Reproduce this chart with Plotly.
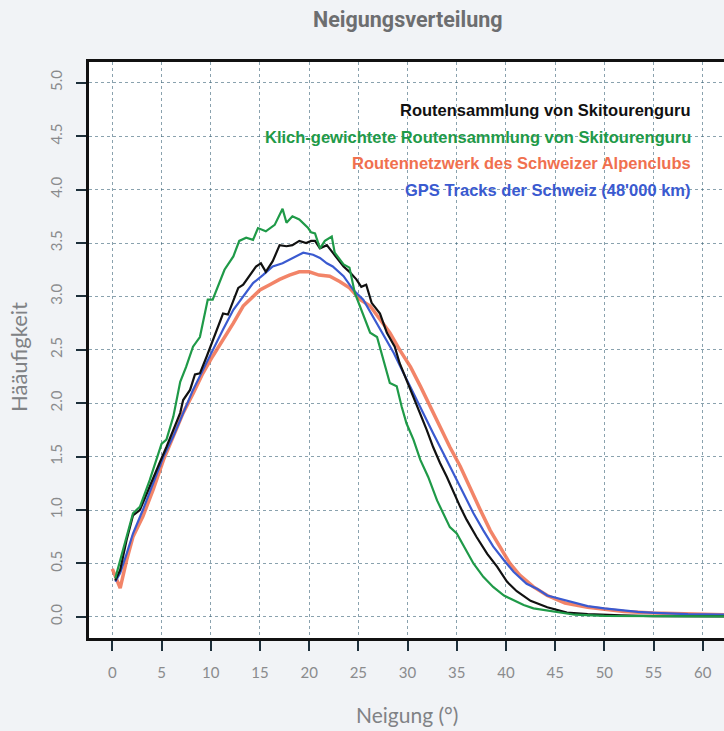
import plotly.graph_objects as go

# ---- data ----
x_ticks = [0, 5, 10, 15, 20, 25, 30, 35, 40, 45, 50, 55, 60]
y_ticks = [0.0, 0.5, 1.0, 1.5, 2.0, 2.5, 3.0, 3.5, 4.0, 4.5, 5.0]
y_tick_text = ["0.0", "0.5", "1.0", "1.5", "2.0", "2.5", "3.0", "3.5", "4.0", "4.5", "5.0"]

green_x = [0.3, 2.1, 2.8, 3.8, 5.0, 5.5, 6.2, 6.9, 7.5, 8.2, 8.9, 9.7, 10.2, 10.7, 11.4, 12.3, 12.9,
           13.6, 14.3, 14.8, 15.6, 16.5, 17.3, 17.7, 18.3, 19.0, 19.9, 20.2, 20.6, 21.1, 21.6, 22.3,
           22.6, 23.5, 24.1, 24.65, 25.3, 26.2, 26.9, 27.5, 28.2, 28.9, 29.4, 29.9, 30.6, 31.3, 32.1,
           33.0, 33.65, 34.3, 35.0, 35.7, 36.7, 37.7, 38.7, 39.8, 40.8, 41.8, 42.8, 44.2, 45.5, 47.0,
           50.0, 55.0, 62.2]
green_y = [0.36, 0.97, 1.03, 1.28, 1.62, 1.66, 1.875, 2.2, 2.34, 2.53, 2.62, 2.97, 2.97, 3.09, 3.25,
           3.375, 3.52, 3.55, 3.53, 3.64, 3.61, 3.67, 3.82, 3.69, 3.75, 3.72, 3.64, 3.60, 3.59, 3.45,
           3.52, 3.56, 3.41, 3.30, 3.27, 3.03, 2.875, 2.66, 2.62, 2.41, 2.19, 2.16, 1.97, 1.81, 1.66,
           1.47, 1.31, 1.09, 0.97, 0.84, 0.78, 0.66, 0.5, 0.375, 0.28, 0.20, 0.156, 0.11, 0.08, 0.06,
           0.035, 0.02, 0.01, 0.006, 0.005]

black_x = [0.3, 0.8, 1.45, 2.1, 2.8, 3.5, 4.15, 4.8, 5.5, 6.2, 6.9, 7.2, 7.9, 8.4, 8.9, 9.6, 10.1,
           10.7, 11.25, 11.75, 12.3, 12.8, 13.3, 14.0, 14.6, 15.1, 15.6, 16.3, 17.0, 17.7, 18.3, 19.0,
           19.7, 20.2, 20.6, 21.1, 21.8, 22.4, 23.5, 24.1, 24.8, 25.3, 25.8, 26.35, 27.2, 27.9, 28.7,
           29.2, 29.9, 30.6, 31.3, 31.95, 32.6, 33.3, 34.0, 34.7, 35.35, 36.0, 37.0, 38.1, 39.1, 40.1,
           41.1, 42.5, 44.2, 46.2, 48.3, 51.7, 55.0, 62.2]
black_y = [0.34, 0.44, 0.72, 0.95, 1.0, 1.16, 1.31, 1.44, 1.59, 1.75, 1.91, 2.03, 2.125, 2.27, 2.28,
           2.44, 2.56, 2.69, 2.84, 2.83, 2.97, 3.08, 3.11, 3.20, 3.28, 3.31, 3.23, 3.33, 3.48, 3.47,
           3.48, 3.52, 3.5, 3.52, 3.52, 3.45, 3.48, 3.41, 3.28, 3.23, 3.16, 3.09, 3.11, 2.94, 2.84,
           2.66, 2.53, 2.375, 2.22, 2.06, 1.91, 1.75, 1.59, 1.44, 1.31, 1.16, 1.03, 0.91, 0.75, 0.59,
           0.47, 0.33, 0.24, 0.15, 0.09, 0.04, 0.025, 0.013, 0.007, 0.005]

blue_x = [0.3, 0.8, 1.45, 2.1, 3.1, 4.15, 5.2, 6.2, 7.2, 8.2, 9.2, 10.2, 11.25, 12.3, 13.3, 14.3, 15.3,
          16.3, 17.3, 18.3, 19.4, 20.4, 21.1, 21.8, 22.4, 23.5, 24.5, 25.5, 26.5, 27.5, 28.6, 29.6,
          30.6, 31.6, 32.6, 33.65, 34.7, 35.7, 36.7, 37.7, 38.7, 39.8, 40.8, 42.1, 43.2, 44.2, 46.6,
          48.3, 50.0, 51.7, 53.4, 55.1, 58.5, 62.2]
blue_y = [0.33, 0.41, 0.59, 0.78, 1.0, 1.25, 1.5, 1.69, 1.91, 2.125, 2.31, 2.5, 2.69, 2.875, 3.0,
          3.125, 3.20, 3.28, 3.31, 3.36, 3.41, 3.39, 3.36, 3.31, 3.28, 3.19, 3.06, 2.97, 2.81, 2.66,
          2.47, 2.28, 2.09, 1.91, 1.72, 1.53, 1.34, 1.16, 0.97, 0.81, 0.66, 0.53, 0.42, 0.31, 0.26,
          0.20, 0.14, 0.10, 0.08, 0.063, 0.047, 0.038, 0.025, 0.02]

red_x = [0.0, 0.3, 0.8, 1.45, 2.1, 3.1, 4.15, 5.2, 6.2, 7.2, 8.2, 9.2, 10.2, 11.25, 12.3, 13.3, 14.3,
         15.0, 16.0, 17.0, 18.0, 19.0, 20.0, 21.0, 22.1, 23.1, 24.1, 25.2, 26.2, 27.2, 28.2, 29.2,
         30.3, 31.3, 32.3, 33.3, 34.3, 35.35, 36.4, 37.4, 38.4, 39.4, 40.4, 41.4, 42.8, 44.2, 46.0,
         48.3, 50.0, 52.0, 55.0, 58.5, 62.2]
red_y = [0.45, 0.38, 0.27, 0.53, 0.75, 0.94, 1.19, 1.47, 1.69, 1.91, 2.09, 2.28, 2.44, 2.59, 2.75,
         2.91, 3.0, 3.06, 3.11, 3.16, 3.20, 3.23, 3.23, 3.20, 3.19, 3.14, 3.08, 2.97, 2.91, 2.78,
         2.66, 2.5, 2.34, 2.16, 1.97, 1.78, 1.59, 1.41, 1.19, 1.0, 0.81, 0.66, 0.5, 0.39, 0.28, 0.20,
         0.13, 0.09, 0.07, 0.05, 0.035, 0.025, 0.02]

series_names = ["Routensammlung von Skitourenguru",
                "Klich-gewichtete Routensammlung von Skitourenguru",
                "Routennetzwerk des Schweizer Alpenclubs",
                "GPS Tracks der Schweiz (48'000 km)"]
series_colors = ["#111111", "#1f9a48", "#f0704f", "#3a5ad0"]

fig = go.Figure()
fig.add_trace(go.Scatter(x=red_x, y=red_y, mode="lines",
                         line=dict(color="rgba(240,110,78,0.85)", width=3.5), showlegend=False))
fig.add_trace(go.Scatter(x=blue_x, y=blue_y, mode="lines",
                         line=dict(color=series_colors[3], width=2.2), showlegend=False))
fig.add_trace(go.Scatter(x=black_x, y=black_y, mode="lines",
                         line=dict(color=series_colors[0], width=2.2), showlegend=False))
fig.add_trace(go.Scatter(x=green_x, y=green_y, mode="lines",
                         line=dict(color=series_colors[1], width=2.2), showlegend=False))

L, T, B, W, H = 89, 62, 93, 724, 731
pw, ph = W - L, H - T - B

def px(xp):
    return (xp - L) / pw

def py(yp):
    return (H - B - yp) / ph

annotations = []
legend_y = [110, 137, 163, 190]
for name, col, yp in zip(series_names, series_colors, legend_y):
    annotations.append(dict(text="<b>" + name + "</b>", x=px(693), y=py(yp), xref="paper", yref="paper",
                            xanchor="right", yanchor="middle", showarrow=False,
                            font=dict(family="Liberation Sans, Arial", size=16.5, color=col)))
annotations.append(dict(text="<b>Neigungsverteilung</b>", x=px(408), y=py(19), xref="paper", yref="paper",
                        xanchor="center", yanchor="middle", showarrow=False,
                        font=dict(family="Roboto, Open Sans", size=21.5, color="#6d6e70")))
annotations.append(dict(text="Neigung (°)", x=px(407), y=py(714), xref="paper", yref="paper",
                        xanchor="center", yanchor="middle", showarrow=False,
                        font=dict(family="Lato, Open Sans", size=21, color="#808285")))
annotations.append(dict(text="Hääufigkeit", x=px(18), y=py(357), xref="paper", yref="paper",
                        xanchor="center", yanchor="middle", showarrow=False, textangle=-90,
                        font=dict(family="Lato, Open Sans", size=22, color="#808285")))

grid_col = "rgba(60,100,120,0.6)"
tick_font = dict(family="Lato, Open Sans", size=15, color="#8a8b8d")

fig.update_layout(
    width=W, height=H,
    margin=dict(l=L, r=0, t=T, b=B, pad=0),
    paper_bgcolor="#f1f3f6",
    plot_bgcolor="#ffffff",
    showlegend=False,
    annotations=annotations,
    xaxis=dict(range=[-2.37, 62.16], tickvals=x_ticks, ticks="outside", ticklen=10, tickwidth=2,
               tickcolor="#1d2f3a", showline=True, linecolor="#111111", linewidth=3, mirror=True,
               showgrid=True, gridcolor=grid_col, griddash="dot", gridwidth=1, zeroline=False,
               tickfont=tick_font, ticklabelstandoff=9),
    yaxis=dict(range=[-0.198, 5.195], tickvals=y_ticks, ticktext=y_tick_text, ticks="outside",
               ticklen=10, tickwidth=2, tickcolor="#1d2f3a", showline=True, linecolor="#111111",
               linewidth=3, showgrid=True, gridcolor=grid_col, griddash="dot", gridwidth=1,
               zeroline=False, tickangle=-90, tickfont=tick_font, ticklabelstandoff=8),
)

fig.write_html("out.html", config={"displayModeBar": False})

# remove the default page margin so the figure starts at the window's top-left corner
with open("out.html", "r", encoding="utf-8") as f:
    html = f.read()
html = html.replace("<head>", "<head><style>html,body{margin:0;padding:0;overflow:hidden;}</style>", 1)
with open("out.html", "w", encoding="utf-8") as f:
    f.write(html)
